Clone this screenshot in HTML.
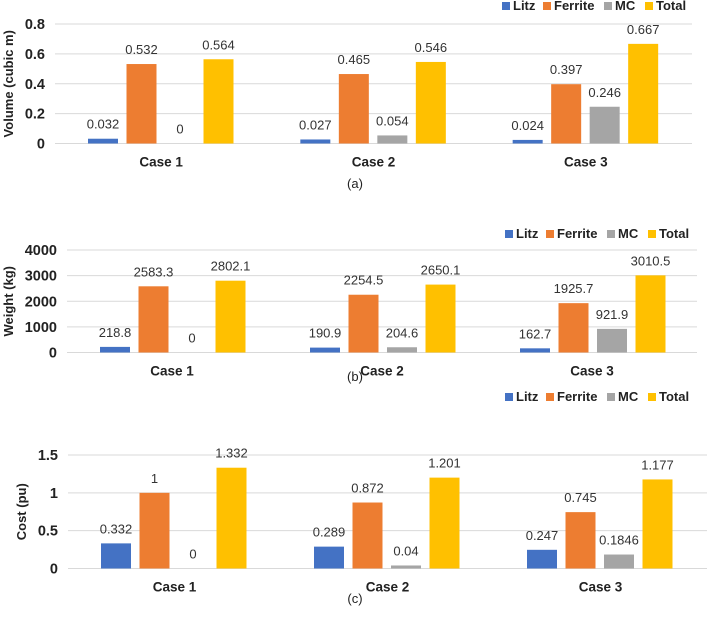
<!DOCTYPE html>
<html><head><meta charset="utf-8"><style>
body{margin:0;background:#fff;width:707px;height:612px;overflow:hidden}
svg text{font-family:"Liberation Sans",sans-serif}
</style></head><body>
<svg id="s" width="707" height="612"></svg>
<script>
const categories=["Case 1","Case 2","Case 3"];
const seriesNames=["Litz","Ferrite","MC","Total"];
const colors=["#4472C4","#ED7D31","#A5A5A5","#FFC000"];
const volLitz=[0.032,0.027,0.024],volFerrite=[0.532,0.465,0.397],volMC=[0,0.054,0.246],volTotal=[0.564,0.546,0.667];
const volLabels=[["0.032","0.027","0.024"],["0.532","0.465","0.397"],["0","0.054","0.246"],["0.564","0.546","0.667"]];
const volTicks=[0,0.2,0.4,0.6,0.8],volTickLabels=["0","0.2","0.4","0.6","0.8"];
const wLitz=[218.8,190.9,162.7],wFerrite=[2583.3,2254.5,1925.7],wMC=[0,204.6,921.9],wTotal=[2802.1,2650.1,3010.5];
const wLabels=[["218.8","190.9","162.7"],["2583.3","2254.5","1925.7"],["0","204.6","921.9"],["2802.1","2650.1","3010.5"]];
const wTicks=[0,1000,2000,3000,4000],wTickLabels=["0","1000","2000","3000","4000"];
const cLitz=[0.332,0.289,0.247],cFerrite=[1,0.872,0.745],cMC=[0,0.04,0.1846],cTotal=[1.332,1.201,1.177];
const cLabels=[["0.332","0.289","0.247"],["1","0.872","0.745"],["0","0.04","0.1846"],["1.332","1.201","1.177"]];
const cTicks=[0,0.5,1,1.5],cTickLabels=["0","0.5","1","1.5"];
const svg=document.getElementById('s');const NS="http://www.w3.org/2000/svg";
function el(t,a,txt){const e=document.createElementNS(NS,t);for(const k in a)e.setAttribute(k,a[k]);if(txt!==undefined)e.textContent=txt;svg.appendChild(e);return e;}
function chart(o){
 const y=v=>o.y0-(v/o.max)*(o.y0-o.yTop);
 const cw=(o.x1-o.x0)/3;
 o.ticks.forEach((t,i)=>{
  const g=el('line',{x1:o.x0,x2:o.x1,y1:y(t),y2:y(t),stroke:'#d9d9d9','stroke-width':1});
  
  const l=el('text',{x:o.x0-10,y:y(t)+5,'text-anchor':'end','font-size':14.5,'font-weight':'bold',fill:'#222'},o.tickLabels[i]);
  
 });
 o.series.forEach((arr,s)=>{
  arr.forEach((v,c)=>{
   const bx=o.x0+c*cw+33+s*38.5;
   const r=el('rect',{x:bx,y:y(v),width:30,height:o.y0-y(v),fill:colors[s]});
   
   const t=el('text',{x:bx+15,y:y(v)-10,'text-anchor':'middle','font-size':13,fill:'#333'},o.labels[s][c]);
   
  });
 });
 categories.forEach((cn,c)=>{
  const t=el('text',{x:o.x0+c*cw+cw/2,y:o.y0+23,'text-anchor':'middle','font-size':13.5,'font-weight':'bold',fill:'#222'},cn);
  
 });
 const cy=(o.y0+o.yTop)/2;
 const at=el('text',{x:0,y:0,transform:`translate(${o.titleX},${cy}) rotate(-90)`,'text-anchor':'middle','font-size':13,'font-weight':'bold',fill:'#222'},o.title);
 
 const lx=[o.legX,o.legX+41,o.legX+102,o.legX+143];
 seriesNames.forEach((n,i)=>{
  const r=el('rect',{x:lx[i],y:o.legY-8,width:8,height:8,fill:colors[i]});
  
  const t=el('text',{x:lx[i]+11,y:o.legY,'font-size':13,'font-weight':'bold',fill:'#222'},n);
  
 });
 const cap=el('text',{x:o.capX,y:o.capY,'text-anchor':'middle','font-size':13,fill:'#222'},o.cap);
 
}
chart({id:'volume',x0:55,x1:692,y0:143.5,yTop:24,max:0.8,ticks:volTicks,tickLabels:volTickLabels,series:[volLitz,volFerrite,volMC,volTotal],labels:volLabels,title:'Volume (cubic m)',titleX:13,legX:502,legY:10,cap:'(a)',capX:355,capY:188});
chart({id:'weight',x0:67,x1:697,y0:352.5,yTop:250,max:4000,ticks:wTicks,tickLabels:wTickLabels,series:[wLitz,wFerrite,wMC,wTotal],labels:wLabels,title:'Weight (kg)',titleX:13,legX:505,legY:238,cap:'(b)',capX:355,capY:381});
chart({id:'cost',x0:68,x1:707,y0:568.5,yTop:455,max:1.5,ticks:cTicks,tickLabels:cTickLabels,series:[cLitz,cFerrite,cMC,cTotal],labels:cLabels,title:'Cost (pu)',titleX:26,legX:505,legY:401,cap:'(c)',capX:355,capY:603});
</script>
</body></html>
